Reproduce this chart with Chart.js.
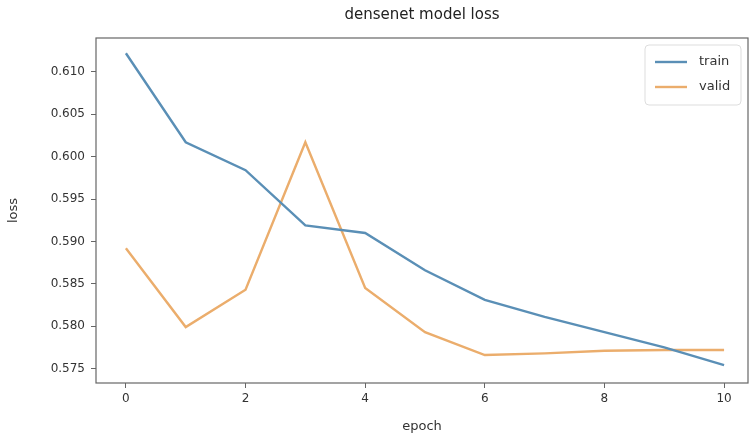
<!DOCTYPE html>
<html>
<head>
<meta charset="utf-8">
<script src="https://cdn.jsdelivr.net/npm/chart.js@4/dist/chart.umd.min.js"></script>
<style>
  html, body { margin: 0; padding: 0; background: #fff; }
  #wrap { width: 753px; height: 438px; }
</style>
</head>
<body>
<div id="wrap"><canvas id="loss"></canvas></div>
<script>
// values
const epochs = [0, 1, 2, 3, 4, 5, 6, 7, 8, 9, 10];
const trainLoss = [0.6122, 0.6017, 0.5984, 0.5919, 0.5910, 0.5866, 0.5831, 0.5811, 0.5793, 0.5775, 0.5754];
const validLoss = [0.5892, 0.5799, 0.5843, 0.6017, 0.5845, 0.5793, 0.5766, 0.5768, 0.5771, 0.5772, 0.5772];
const yTicks = [0.575, 0.580, 0.585, 0.590, 0.595, 0.600, 0.605, 0.610];
const xTicks = [0, 2, 4, 6, 8, 10];
const chartTitle = "densenet model loss";

const blue = "#5a8fb6";
const orange = "#ebad6c";

function toPoints(vals) {
    return epochs.map((e, i) => ({ x: e, y: vals[i] }));
}

// frame, title over the axes and legend box top-right, like matplotlib
const framePlugin = {
    id: "frame",
    afterDraw(chart) {
        const ctx = chart.ctx;
        const a = chart.chartArea;
        ctx.save();
        ctx.strokeStyle = "#666";
        ctx.lineWidth = 1.2;
        ctx.strokeRect(a.left, a.top, a.right - a.left, a.bottom - a.top);

        // title centred on the plot area
        ctx.fillStyle = "#222";
        ctx.font = "15px 'DejaVu Sans'";
        ctx.textAlign = "center";
        ctx.textBaseline = "middle";
        ctx.fillText(chartTitle, (a.left + a.right) / 2, 15);

        // legend
        const bx = a.right - 103, by = a.top + 7, bw = 96, bh = 60;
        ctx.fillStyle = "rgba(255,255,255,0.85)";
        ctx.strokeStyle = "#ddd";
        ctx.lineWidth = 1;
        ctx.beginPath();
        ctx.roundRect(bx, by, bw, bh, 4);
        ctx.fill();
        ctx.stroke();
        ctx.font = "13px 'DejaVu Sans'";
        ctx.textAlign = "left";
        chart.data.datasets.forEach((ds, i) => {
            const yy = by + 17 + i * 25;
            ctx.strokeStyle = ds.borderColor;
            ctx.lineWidth = 2.4;
            ctx.beginPath();
            ctx.moveTo(bx + 10, yy);
            ctx.lineTo(bx + 42, yy);
            ctx.stroke();
            ctx.fillStyle = "#333";
            ctx.fillText(ds.label, bx + 54, yy);
        });
        ctx.restore();
    }
};

new Chart(document.getElementById("loss"), {
    type: "line",
    data: {
        datasets: [
            { label: "train", data: toPoints(trainLoss), borderColor: blue, borderWidth: 2.4, pointRadius: 0, tension: 0 },
            { label: "valid", data: toPoints(validLoss), borderColor: orange, borderWidth: 2.4, pointRadius: 0, tension: 0 }
        ]
    },
    options: {
        responsive: true,
        maintainAspectRatio: false,
        animation: false,
        layout: { padding: { left: 0, right: 5, top: 38, bottom: 0 } },
        plugins: {
            legend: { display: false },
            tooltip: { enabled: false },
            title: { display: false }
        },
        scales: {
            x: {
                type: "linear",
                min: -0.5,
                max: 10.4,
                afterFit(scale) { scale.height = 55; },
                afterBuildTicks(scale) { scale.ticks = xTicks.map(v => ({ value: v })); },
                grid: { drawOnChartArea: false, drawTicks: true, tickLength: 5, tickColor: "#666", color: "#666" },
                border: { display: false },
                ticks: { color: "#333", font: { family: "DejaVu Sans", size: 12 }, padding: 4, maxRotation: 0 },
                title: { display: true, text: "epoch", color: "#333", font: { family: "DejaVu Sans", size: 13 }, padding: { top: 4 } }
            },
            y: {
                min: 0.5733,
                max: 0.6140,
                afterFit(scale) { scale.width = 96; },
                afterBuildTicks(scale) { scale.ticks = yTicks.map(v => ({ value: v })); },
                grid: { drawOnChartArea: false, drawTicks: true, tickLength: 5, tickColor: "#666", color: "#666" },
                border: { display: false },
                ticks: {
                    color: "#333",
                    font: { family: "DejaVu Sans", size: 12 },
                    padding: 6,
                    callback: v => v.toFixed(3)
                },
                title: { display: true, text: "loss", color: "#333", font: { family: "DejaVu Sans", size: 13 }, padding: { top: 6, bottom: 0 } }
            }
        }
    },
    plugins: [framePlugin]
});
</script>
</body>
</html>
